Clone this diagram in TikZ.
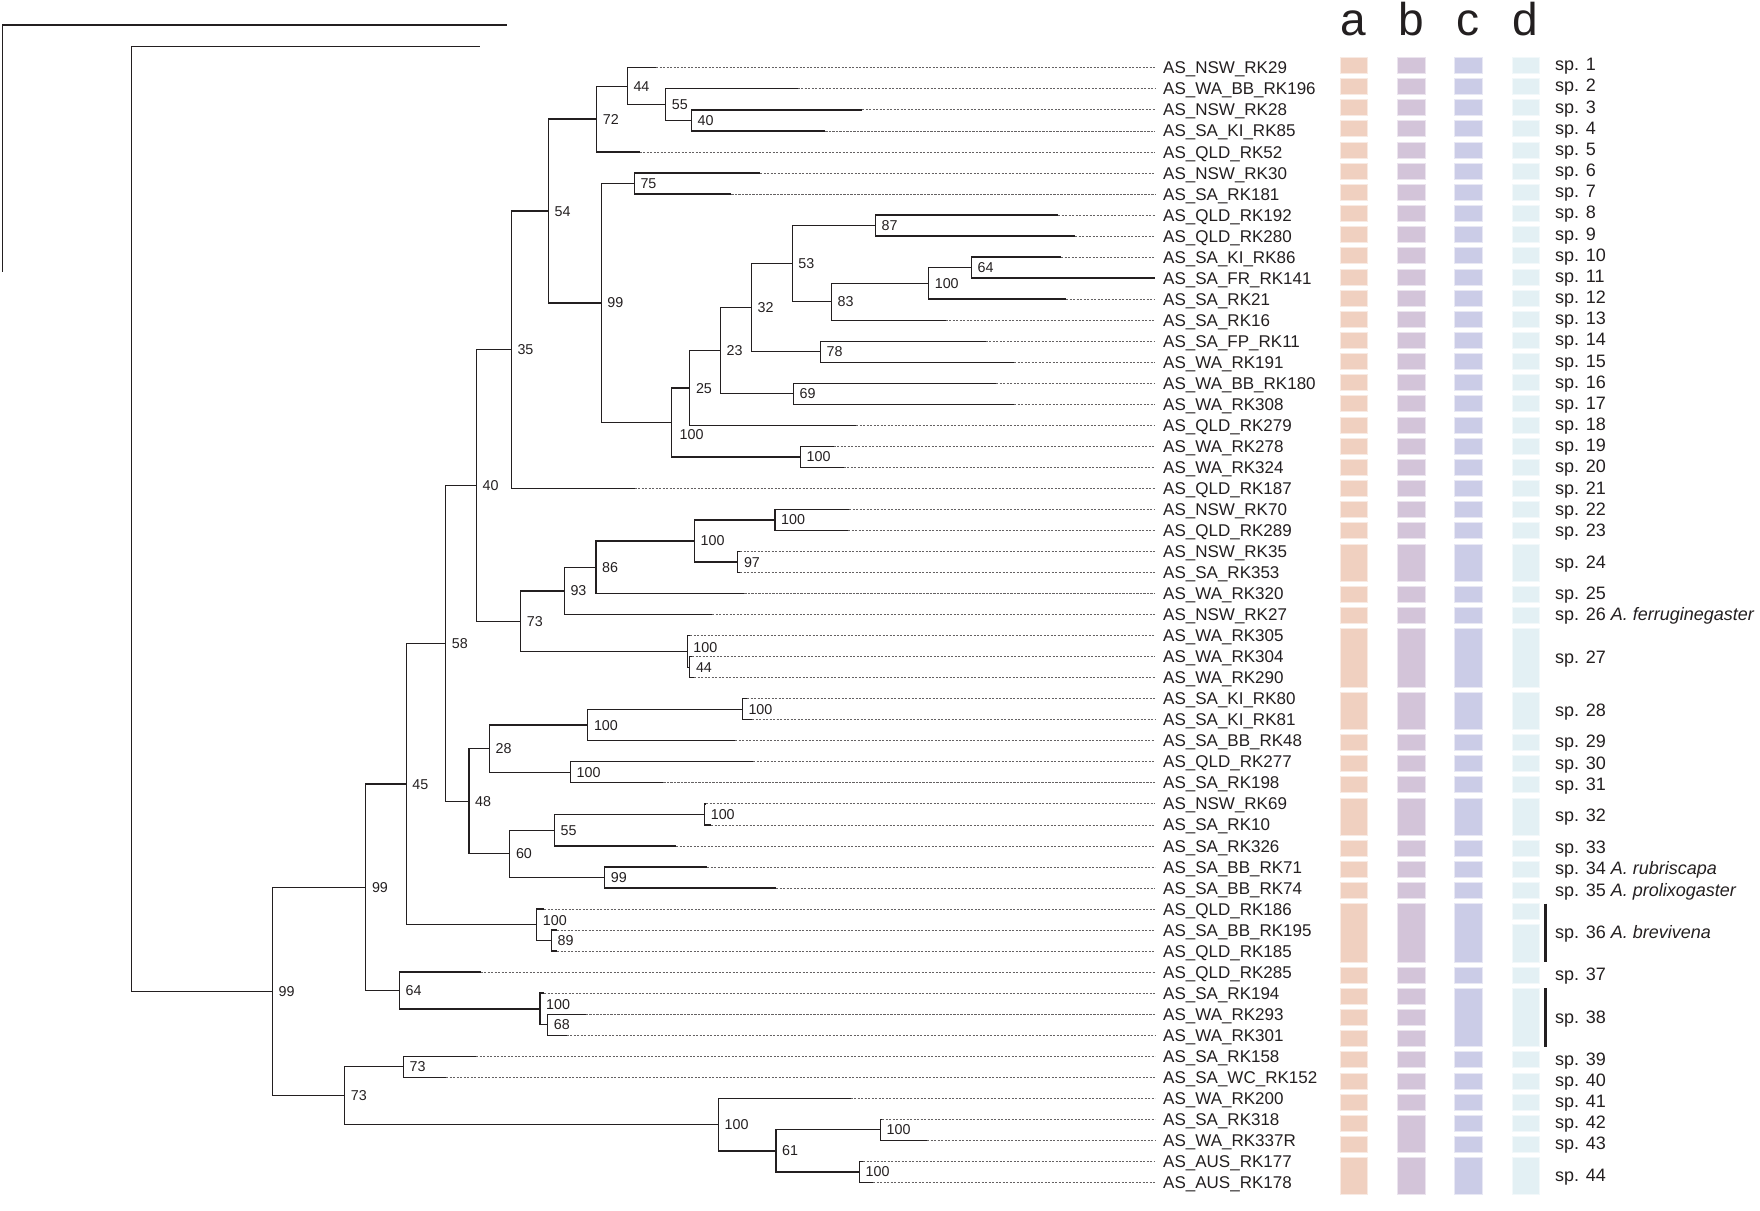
\documentclass[tikz,border=0pt]{standalone}
\usepackage{fontspec}
\setmainfont{Liberation Sans}
\usetikzlibrary{calc}
\definecolor{ink}{HTML}{231F20}
\definecolor{colA}{HTML}{F0D0C0}
\definecolor{colB}{HTML}{D3C4D9}
\definecolor{colC}{HTML}{CBCCE7}
\definecolor{colD}{HTML}{E3F0F4}
\newcommand\mk[4]{\path let \p1=($(#3)!.5!(#4)$) in coordinate (#1) at (#2pt,\y1);
  \draw[br] (#3) -| (#1) |- (#4);}
\newcommand\bl[4]{\node[bs] (b#1) at ($(#1)+(#3,#4)$) {#2};}
\newcommand\barcol[3]{\foreach \f/\l in #3 {\filldraw[fill=#2, draw=#2!45!white, line width=0.8pt] (#1,{65.3+(\f-1)*21.16-8}) rectangle ++(27.5,{(\l-\f)*21.16+16});}}
\def\Top{1/1,2/2,3/3,4/4,5/5,6/6,7/7,8/8,9/9,10/10,11/11,12/12,13/13,14/14,15/15,16/16,17/17,18/18,19/19,20/20,21/21,22/22,23/23,24/25,26/26,27/27,28/30,31/32,33/33,34/34,35/35,36/37,38/38,39/39,40/40}
\edef\Alist{\Top,41/43,44/44,45/45,46/46,47/47,48/48,49/49,50/50,51/51,52/52,53/54}
\edef\Blist{\Top,41/43,44/44,45/45,46/46,47/47,48/48,49/49,50/50,51/52,53/54}
\edef\Clist{\Top,41/43,44/44,45/47,48/48,49/49,50/50,51/51,52/52,53/54}
\edef\Dlist{\Top,41/41,42/43,44/44,45/47,48/48,49/49,50/50,51/51,52/52,53/54}
\tikzset{
  br/.style={draw=ink, line width=1.3pt, line join=miter},
  ext/.style={draw=ink!70, line width=0.75pt, dash pattern=on 2.2pt off 1.3pt},
  tiplab/.style={anchor=base west, inner sep=0pt, font=\fontsize{17}{20}\selectfont, text=ink},
  bs/.style={anchor=base west, inner sep=0pt, font=\fontsize{14.3}{16}\selectfont, text=ink},
  splab/.style={anchor=base west, inner sep=0pt, font=\fontsize{18}{20}\selectfont, text=ink},
  hdr/.style={anchor=base, inner sep=0pt, font=\fontsize{46}{50}\selectfont, text=ink}
}
\begin{document}
\begin{tikzpicture}[x=1pt,y=-1pt]
\useasboundingbox (0,0) rectangle (1760,1210);
% tips: solid end and extension end
\foreach \i/\s in {1/656,2/797.5,3/862,4/825.3,5/639.6,6/760,7/731.4,8/1058,9/1075,10/1061,11/1155,12/1066,13/945.7,14/985.7,15/1014,16/996,17/1014,18/856,19/833.5,20/843.7,21/634.7,22/849,23/848,24/740,25/740,26/744.4,27/712.2,28/690,29/692,30/694,31/747,32/752,33/735.2,34/753,35/663.3,36/706,37/711,38/676,39/707,40/776,41/544,42/557,43/557,44/480.6,45/544,46/585.8,47/566.7,48/476,49/446,50/850.5,51/882,52/927,53/863,54/873}{
  \coordinate (T\i) at (\s,{67.8+(\i-1)*21.03});
  \coordinate (E\i) at (1155,{67.8+(\i-1)*21.03});
}
\foreach \i in {1,...,54}{\draw[ext] (T\i) -- (E\i);}
% internal nodes
\mk{N40a}{691.4}{T3}{T4}
\mk{N55}{665.7}{T2}{N40a}
\mk{N44}{627.3}{T1}{N55}
\mk{N72}{596.7}{N44}{T5}
\mk{N75}{634.3}{T6}{T7}
\mk{N87}{875.5}{T8}{T9}
\mk{N64a}{971.4}{T10}{T11}
\mk{N100a}{928.6}{N64a}{T12}
\mk{N83}{831.4}{N100a}{T13}
\mk{N53}{792.2}{N87}{N83}
\mk{N78}{820.4}{T14}{T15}
\mk{N32}{751.4}{N53}{N78}
\mk{N69}{793.5}{T16}{T17}
\mk{N23}{720.4}{N32}{N69}
\mk{N25}{689.8}{N23}{T18}
\mk{N100c}{800.4}{T19}{T20}
\mk{N100b}{671.4}{N25}{N100c}
\mk{N99a}{601.2}{N75}{N100b}
\mk{N54}{548.4}{N72}{N99a}
\mk{N35}{511.3}{N54}{T21}
\mk{N100e}{775}{T22}{T23}
\mk{N97}{737.8}{T24}{T25}
\mk{N100d}{694.4}{N100e}{N97}
\mk{N86}{596}{N100d}{T26}
\mk{N93}{564.3}{N86}{T27}
\mk{N44b}{689.8}{T29}{T30}
\mk{N100f}{687.2}{T28}{N44b}
\mk{N73}{520.7}{N93}{N100f}
\mk{N40}{476.4}{N35}{N73}
\mk{N100g}{742.3}{T31}{T32}
\mk{N100h}{587.8}{N100g}{T33}
\mk{N100i}{570.4}{T34}{T35}
\mk{N28}{489.5}{N100h}{N100i}
\mk{N100j}{704.6}{T36}{T37}
\mk{N55b}{554.5}{N100j}{T38}
\mk{N99b}{604.6}{T39}{T40}
\mk{N60}{509.8}{N55b}{N99b}
\mk{N48}{469}{N28}{N60}
\mk{N58}{445.6}{N40}{N48}
\mk{N89}{551.4}{T42}{T43}
\mk{N100k}{536.7}{T41}{N89}
\mk{N45}{406.2}{N58}{N100k}
\mk{N68}{547.6}{T46}{T47}
\mk{N100l}{540}{T45}{N68}
\mk{N64}{399.5}{T44}{N100l}
\mk{N99c}{365.8}{N45}{N64}
\mk{N73a}{403.4}{T48}{T49}
\mk{N100n}{880.5}{T51}{T52}
\mk{N100o}{859.4}{T53}{T54}
\mk{N61}{775.9}{N100n}{N100o}
\mk{N100m}{718.5}{T50}{N61}
\mk{N73b}{344.6}{N73a}{N100m}
\mk{N99r}{272.5}{N99c}{N73b}
% root and outgroup
\coordinate (root) at (131.3,500);
\coordinate (OG) at (479.5,46.7);
\draw[br] (OG) -| (root) |- (N99r);
\coordinate (F1) at (2.3,271.7);
\coordinate (F2) at (507,25);
\draw[br] (F1) |- (F2);
% support values
\bl{N44}{44}{6}{5} \bl{N55}{55}{6}{5} \bl{N40a}{40}{6}{5} \bl{N72}{72}{6}{5}
\bl{N54}{54}{6}{5} \bl{N75}{75}{6}{5} \bl{N99a}{99}{6}{5} \bl{N87}{87}{6}{5}
\bl{N53}{53}{6}{5} \bl{N64a}{64}{6}{5} \bl{N100a}{100}{6}{5} \bl{N83}{83}{6}{5}
\bl{N32}{32}{6}{5} \bl{N78}{78}{6}{5} \bl{N23}{23}{6}{5} \bl{N69}{69}{6}{5}
\bl{N25}{25}{6}{5} \bl{N100b}{100}{8}{17} \bl{N100c}{100}{6}{5} \bl{N35}{35}{6}{5}
\bl{N40}{40}{6}{5} \bl{N100e}{100}{6}{5} \bl{N100d}{100}{6}{5} \bl{N97}{97}{6}{5}
\bl{N86}{86}{6}{5} \bl{N93}{93}{6}{5} \bl{N73}{73}{6}{5} \bl{N100f}{100}{6}{1}
\bl{N44b}{44}{6}{5} \bl{N58}{58}{6}{5} \bl{N100g}{100}{6}{5} \bl{N100h}{100}{6}{5}
\bl{N28}{28}{6}{5} \bl{N100i}{100}{6}{5} \bl{N48}{48}{6}{5} \bl{N100j}{100}{6}{5}
\bl{N55b}{55}{6}{5} \bl{N60}{60}{6}{5} \bl{N99b}{99}{6}{5} \bl{N45}{45}{6}{5}
\bl{N99c}{99}{6}{5} \bl{N100k}{100}{6}{1} \bl{N89}{89}{6}{5} \bl{N64}{64}{6}{5}
\bl{N100l}{100}{6}{1} \bl{N68}{68}{6}{5} \bl{N99r}{99}{6}{5} \bl{N73a}{73}{6}{5}
\bl{N73b}{73}{6}{5} \bl{N100m}{100}{6}{5} \bl{N61}{61}{6}{5} \bl{N100n}{100}{6}{5}
\bl{N100o}{100}{6}{5}
% tip labels
\foreach \i/\t in {1/AS\_NSW\_RK29,2/AS\_WA\_BB\_RK196,3/AS\_NSW\_RK28,4/AS\_SA\_KI\_RK85,5/AS\_QLD\_RK52,6/AS\_NSW\_RK30,7/AS\_SA\_RK181,8/AS\_QLD\_RK192,9/AS\_QLD\_RK280,10/AS\_SA\_KI\_RK86,11/AS\_SA\_FR\_RK141,12/AS\_SA\_RK21,13/AS\_SA\_RK16,14/AS\_SA\_FP\_RK11,15/AS\_WA\_RK191,16/AS\_WA\_BB\_RK180,17/AS\_WA\_RK308,18/AS\_QLD\_RK279,19/AS\_WA\_RK278,20/AS\_WA\_RK324,21/AS\_QLD\_RK187,22/AS\_NSW\_RK70,23/AS\_QLD\_RK289,24/AS\_NSW\_RK35,25/AS\_SA\_RK353,26/AS\_WA\_RK320,27/AS\_NSW\_RK27,28/AS\_WA\_RK305,29/AS\_WA\_RK304,30/AS\_WA\_RK290,31/AS\_SA\_KI\_RK80,32/AS\_SA\_KI\_RK81,33/AS\_SA\_BB\_RK48,34/AS\_QLD\_RK277,35/AS\_SA\_RK198,36/AS\_NSW\_RK69,37/AS\_SA\_RK10,38/AS\_SA\_RK326,39/AS\_SA\_BB\_RK71,40/AS\_SA\_BB\_RK74,41/AS\_QLD\_RK186,42/AS\_SA\_BB\_RK195,43/AS\_QLD\_RK185,44/AS\_QLD\_RK285,45/AS\_SA\_RK194,46/AS\_WA\_RK293,47/AS\_WA\_RK301,48/AS\_SA\_RK158,49/AS\_SA\_WC\_RK152,50/AS\_WA\_RK200,51/AS\_SA\_RK318,52/AS\_WA\_RK337R,53/AS\_AUS\_RK177,54/AS\_AUS\_RK178}{
  \node[tiplab] (L\i) at (1163,{67.8+(\i-1)*21.03+6.1}) {\t};
}
% trait columns
\barcol{1340}{colA}{\Alist}
\barcol{1397.5}{colB}{\Blist}
\barcol{1454.5}{colC}{\Clist}
\barcol{1512}{colD}{\Dlist}
\node[hdr] (Ha) at (1353.75,35) {a};
\node[hdr] (Hb) at (1411.25,35) {b};
\node[hdr] (Hc) at (1468.25,35) {c};
\node[hdr] (Hd) at (1525.75,35) {d};
% species labels
\foreach \i in {1,...,23}{\node[splab] (S\i) at (1555,{65.3+(\i-1)*21.16+5.5}) {sp. \i};}
\foreach \f/\l/\n/\t in {24/25/24/{sp. 24},26/26/25/{sp. 25},27/27/26/{sp. 26 \textit{A. ferruginegaster}},28/30/27/{sp. 27},31/32/28/{sp. 28},33/33/29/{sp. 29},34/34/30/{sp. 30},35/35/31/{sp. 31},36/37/32/{sp. 32},38/38/33/{sp. 33},39/39/34/{sp. 34 \textit{A. rubriscapa}},40/40/35/{sp. 35 \textit{A. prolixogaster}},41/43/36/{sp. 36 \textit{A. brevivena}},44/44/37/{sp. 37},45/47/38/{sp. 38},48/48/39/{sp. 39},49/49/40/{sp. 40},50/50/41/{sp. 41},51/51/42/{sp. 42},52/52/43/{sp. 43},53/54/44/{sp. 44}}{
  \node[splab] (S\n) at (1555,{65.3+((\f+\l)/2-1)*21.16+5.5}) {\t};
}
\draw[ink, line width=3pt] (1545.7,903.7) -- (1545.7,962);
\draw[ink, line width=3pt] (1545.7,988.3) -- (1545.7,1046.7);
\end{tikzpicture}
\end{document}
